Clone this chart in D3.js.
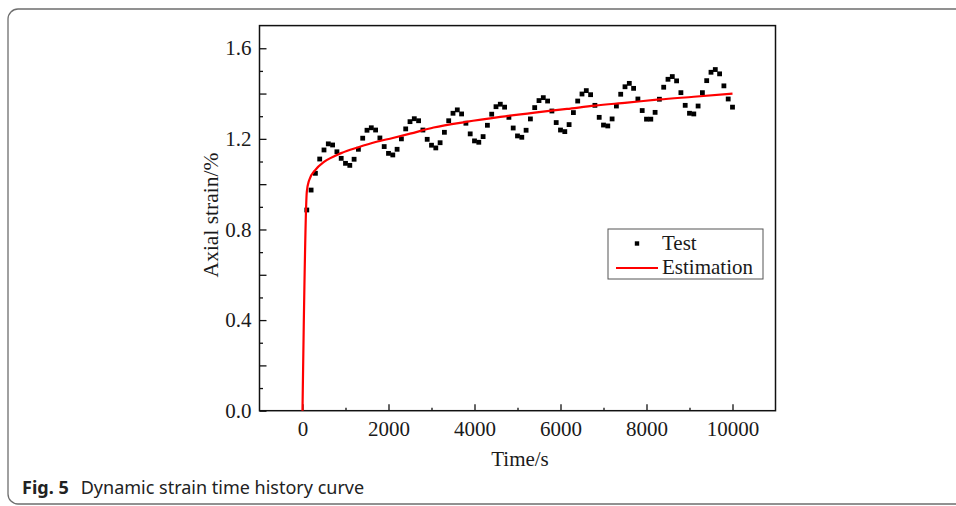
<!DOCTYPE html>
<html>
<head>
<meta charset="utf-8">
<script src="https://cdn.jsdelivr.net/npm/d3@7"></script>
<style>
  body { margin: 0; background: white; }
  svg { display: block; }
</style>
</head>
<body>
<div id="viz"></div>
<script>

const width = 956
const height = 506

// test readings, one every 100 s
const testTime = [100, 200, 300, 400, 500, 600, 700, 800, 900, 1000,
    1100, 1200, 1300, 1400, 1500, 1600, 1700, 1800, 1900, 2000,
    2100, 2200, 2300, 2400, 2500, 2600, 2700, 2800, 2900, 3000,
    3100, 3200, 3300, 3400, 3500, 3600, 3700, 3800, 3900, 4000,
    4100, 4200, 4300, 4400, 4500, 4600, 4700, 4800, 4900, 5000,
    5100, 5200, 5300, 5400, 5500, 5600, 5700, 5800, 5900, 6000,
    6100, 6200, 6300, 6400, 6500, 6600, 6700, 6800, 6900, 7000,
    7100, 7200, 7300, 7400, 7500, 7600, 7700, 7800, 7900, 8000,
    8100, 8200, 8300, 8400, 8500, 8600, 8700, 8800, 8900, 9000,
    9100, 9200, 9300, 9400, 9500, 9600, 9700, 9800, 9900, 10000]
const testStrain = [0.886, 0.974, 1.048, 1.111, 1.151, 1.178, 1.173, 1.143, 1.114, 1.092,
    1.083, 1.110, 1.154, 1.203, 1.238, 1.249, 1.239, 1.204, 1.166, 1.136,
    1.129, 1.154, 1.200, 1.244, 1.276, 1.289, 1.280, 1.239, 1.198, 1.172,
    1.160, 1.183, 1.229, 1.280, 1.313, 1.328, 1.310, 1.269, 1.222, 1.191,
    1.185, 1.210, 1.260, 1.309, 1.342, 1.353, 1.340, 1.295, 1.248, 1.213,
    1.207, 1.238, 1.288, 1.338, 1.369, 1.382, 1.367, 1.323, 1.272, 1.239,
    1.232, 1.263, 1.316, 1.367, 1.398, 1.413, 1.395, 1.348, 1.295, 1.261,
    1.257, 1.288, 1.345, 1.397, 1.430, 1.445, 1.423, 1.376, 1.325, 1.287,
    1.287, 1.317, 1.375, 1.428, 1.463, 1.475, 1.456, 1.404, 1.348, 1.313,
    1.310, 1.345, 1.404, 1.457, 1.494, 1.506, 1.487, 1.434, 1.376, 1.340]

// estimation curve
const estTime = [0, 100, 150, 300, 500, 900, 1300, 1700, 2100, 2500, 3050, 3800, 4600, 5400, 6150, 6800, 7550, 8300, 9100, 10000]
const estStrain = [0, 0.966, 1.015, 1.063, 1.098, 1.137, 1.163, 1.186, 1.204, 1.223, 1.250, 1.275, 1.297, 1.316, 1.332, 1.347, 1.360, 1.374, 1.386, 1.400]

const xTickValues = [0, 1000, 2000, 3000, 4000, 5000, 6000, 7000, 8000, 9000, 10000]
const xTickLabels = [0, 2000, 4000, 6000, 8000, 10000]
const yTickValues = [0, 0.1, 0.2, 0.3, 0.4, 0.5, 0.6, 0.7, 0.8, 0.9, 1.0, 1.1, 1.2, 1.3, 1.4, 1.5, 1.6]
const yMajorTicks = [0, 0.2, 0.4, 0.6, 0.8, 1.0, 1.2, 1.4, 1.6]
const yTickLabels = [0, 0.4, 0.8, 1.2, 1.6]

const serif = "'Liberation Serif', 'Times New Roman', serif"
const textColor = "#1a1a1a"

const svg = d3.select("#viz").append("svg").attr("width", width).attr("height", height)

// outer figure box (rounded, open to the right)
svg.append("rect").attr("x", 8).attr("y", 9).attr("width", 980).attr("height", 495).attr("rx", 10)
    .attr("fill", "none").attr("stroke", "#6e6e6e").attr("stroke-width", 1.3)

const xScale = d3.scaleLinear().domain([-1000, 11000]).range([259.5, 775.5])
const yScale = d3.scaleLinear().domain([0, 1.7]).range([410.7, 25.6])

const chartGroup = svg.append("g").attr("id", "chartGroup")

// axes, ticks pointing inward
const xAxis = d3.axisBottom(xScale).tickValues(xTickValues).tickSize(-6).tickPadding(10)
    .tickFormat(d => xTickLabels.includes(d) ? d : "")
const xAxisGroup = chartGroup.append("g").attr("transform", `translate(0, ${yScale(0)})`).call(xAxis)
xAxisGroup.select(".domain").remove()
xAxisGroup.selectAll("line").attr("y2", d => xTickLabels.includes(d) ? -6.5 : -3).attr("stroke", "#111").attr("stroke-width", 1.3)
xAxisGroup.selectAll("text").attr("font-family", serif).attr("font-size", 21).attr("fill", textColor)

const yAxis = d3.axisLeft(yScale).tickValues(yTickValues).tickSize(-7).tickPadding(8)
    .tickFormat(d => yTickLabels.some(v => Math.abs(v - d) < 1e-6) ? d3.format(".1f")(d) : "")
const yAxisGroup = chartGroup.append("g").attr("transform", `translate(${xScale(-1000)}, 0)`).call(yAxis)
yAxisGroup.select(".domain").remove()
yAxisGroup.selectAll("line").attr("x2", d => yMajorTicks.some(v => Math.abs(v - d) < 1e-6) ? 7 : 3.5).attr("stroke", "#111").attr("stroke-width", 1.3)
yAxisGroup.selectAll("text").attr("font-family", serif).attr("font-size", 21).attr("fill", textColor)

// plot frame
chartGroup.append("rect").attr("x", xScale(-1000)).attr("y", yScale(1.7))
    .attr("width", xScale(11000) - xScale(-1000)).attr("height", yScale(0) - yScale(1.7))
    .attr("fill", "none").attr("stroke", "#111").attr("stroke-width", 1.5)

// test points
const testData = testTime.map((t, i) => ({t: t, v: testStrain[i]}))
const markerSize = 4.8
chartGroup.append("g").attr("id", "testPoints").selectAll("rect").data(testData).enter().append("rect")
    .attr("x", d => xScale(d.t) - markerSize / 2).attr("y", d => yScale(d.v) - markerSize / 2)
    .attr("width", markerSize).attr("height", markerSize).attr("fill", "#000")

// estimation line
const estData = estTime.map((t, i) => ({t: t, v: estStrain[i]}))
const estLine = d3.line().x(d => xScale(d.t)).y(d => yScale(d.v)).curve(d3.curveMonotoneX)
chartGroup.append("path").attr("d", estLine(estData)).attr("fill", "none").attr("stroke", "#ff0000").attr("stroke-width", 2.2)

// axis titles
chartGroup.append("text").attr("x", 520).attr("y", 466).attr("text-anchor", "middle")
    .attr("font-family", serif).attr("font-size", 21).attr("fill", textColor).text("Time/s")
chartGroup.append("text").attr("transform", `translate(218, 215) rotate(-90)`).attr("text-anchor", "middle")
    .attr("font-family", serif).attr("font-size", 21.5).attr("fill", textColor).text("Axial strain/%")

// legend
const legendGroup = chartGroup.append("g").attr("id", "legendGroup").attr("transform", `translate(608, 229)`)
legendGroup.append("rect").attr("x", 0).attr("y", 0).attr("width", 155).attr("height", 50)
    .attr("fill", "white").attr("stroke", "#555").attr("stroke-width", 1)
legendGroup.append("rect").attr("x", 29 - 2.2).attr("y", 14.5 - 2.2).attr("width", 4.4).attr("height", 4.4).attr("fill", "#000")
legendGroup.append("text").attr("x", 54).attr("y", 21).attr("font-family", serif).attr("font-size", 21).attr("fill", textColor).text("Test")
legendGroup.append("line").attr("x1", 8).attr("x2", 50).attr("y1", 39).attr("y2", 39).attr("stroke", "#ff0000").attr("stroke-width", 2.2)
legendGroup.append("text").attr("x", 54).attr("y", 45).attr("font-family", serif).attr("font-size", 21).attr("fill", textColor).text("Estimation")

// caption
const caption = svg.append("text").attr("x", 22).attr("y", 494).attr("font-family", "'Noto Sans', 'Open Sans', sans-serif")
    .attr("font-size", 18).attr("fill", "#222")
caption.append("tspan").attr("font-weight", "bold").text("Fig. 5")
caption.append("tspan").attr("dx", 12).text("Dynamic strain time history curve")

</script>
</body>
</html>
